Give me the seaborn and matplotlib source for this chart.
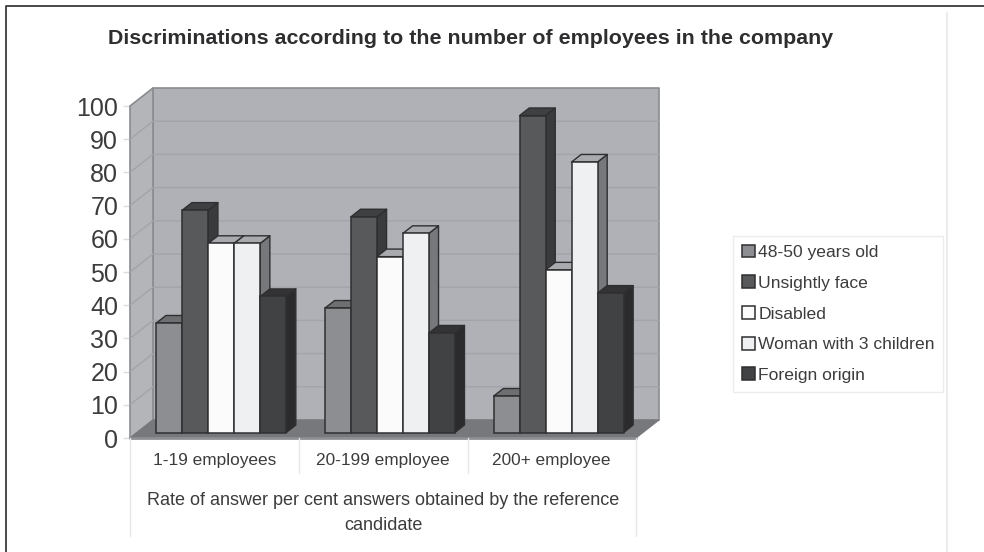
import matplotlib
matplotlib.use("Agg")
import matplotlib.pyplot as plt
import pandas as pd
import seaborn as sns
from matplotlib.lines import Line2D
from matplotlib.patches import Polygon
from matplotlib.transforms import Affine2D, IdentityTransform

categories = ["1-19 employees", "20-199 employee", "200+ employee"]
series_names = ["48-50 years old", "Unsightly face", "Disabled",
                "Woman with 3 children", "Foreign origin"]
older_workers = [33, 37.5, 11]
unsightly_face = [67, 65, 95.5]
disabled = [57, 53, 49]
woman_three_children = [57, 60, 81.5]
foreign_origin = [41, 30, 42]
y_ticks = list(range(0, 101, 10))

title_text = "Discriminations according to the number of employees in the company"
axis_text = "Rate of answer per cent answers obtained by the reference\ncandidate"

front_colors = ["#8d8e91", "#58595b", "#fbfbfb", "#eff0f1", "#414244"]
side_colors = ["#68696b", "#3a3b3c", "#77787b", "#77787b", "#2b2b2d"]
top_colors = ["#6e6f71", "#3f4041", "#a9aaad", "#a9aaad", "#333335"]
EDGE = "#2f2f31"
TEXT = "#3c3c3e"

W, H = 984, 552
DX, DY = 23.0, 18.0   # screen offset from the front plane to the back wall
BAR_D0, BAR_D1 = 0.3, 0.72  # depth range occupied by the bars

sns.set_theme(style="white")
plt.rcParams["font.family"] = ["Liberation Sans", "DejaVu Sans"]

fig = plt.figure(figsize=(W / 100, H / 100), dpi=100, facecolor="white")
ax = fig.add_axes([130 / W, (H - 438) / H, 506 / W, 332 / H], facecolor="none")

df = pd.DataFrame({
    "category": categories * 5,
    "series": [s for s in series_names for _ in categories],
    "value": older_workers + unsightly_face + disabled
             + woman_three_children + foreign_origin,
})

sns.barplot(data=df, x="category", y="value", hue="series",
            order=categories, hue_order=series_names,
            palette=front_colors, saturation=1, width=0.77, gap=0,
            edgecolor=EDGE, linewidth=1.1, ax=ax)
ax.set_xlim(-0.5, 2.5)
ax.set_ylim(0, 100)


def pt(x, y, d):
    """Screen position of a data point pushed d of the way to the back wall."""
    px, py = ax.transData.transform((x, y))
    return px + DX * d, py + DY * d


def face(points, color, edge, lw, z):
    ax.add_patch(Polygon(points, closed=True, facecolor=color, edgecolor=edge,
                         linewidth=lw, transform=IdentityTransform(),
                         clip_on=False, zorder=z, joinstyle="round"))


# Walls, floor and gridlines of the box
x0, x1 = ax.get_xlim()
WALL_EDGE = "#8a8b8f"
face([pt(x0, 0, 1), pt(x1, 0, 1), pt(x1, 100, 1), pt(x0, 100, 1)],
     "#b0b1b6", WALL_EDGE, 1.2, 1)
face([pt(x0, 0, 0), pt(x0, 0, 1), pt(x0, 100, 1), pt(x0, 100, 0)],
     "#b4b5b9", WALL_EDGE, 1.2, 1)
face([pt(x0, 0, 0), pt(x1, 0, 0), pt(x1, 0, 1), pt(x0, 0, 1)],
     "#77787b", "#77787b", 0.8, 1)
for tick in y_ticks[1:-1]:
    a, b, c = pt(x0, tick, 0), pt(x0, tick, 1), pt(x1, tick, 1)
    ax.add_line(Line2D([a[0], b[0], c[0]], [a[1], b[1], c[1]], color="#a3a4a9",
                       lw=1.0, transform=IdentityTransform(), clip_on=False,
                       zorder=1.5))
floor_edge = [pt(x0, 0, 0), pt(x1, 0, 0)]
ax.add_line(Line2D([p[0] for p in floor_edge], [p[1] for p in floor_edge],
                   color="#8e8f93", lw=2.0, transform=IdentityTransform(),
                   clip_on=False, zorder=1.6))

# Turn the flat seaborn bars into boxes, painting from left to right
bar_shift = Affine2D().translate(DX * BAR_D0, DY * BAR_D0)
for s_idx, container in enumerate(ax.containers):
    for c_idx, bar in enumerate(container):
        left, right = bar.get_x(), bar.get_x() + bar.get_width()
        top = bar.get_height()
        z = 3 + c_idx * 10 + s_idx * 1.0
        face([pt(right, 0, BAR_D0), pt(right, 0, BAR_D1),
              pt(right, top, BAR_D1), pt(right, top, BAR_D0)],
             side_colors[s_idx], EDGE, 1.0, z)
        face([pt(left, top, BAR_D0), pt(right, top, BAR_D0),
              pt(right, top, BAR_D1), pt(left, top, BAR_D1)],
             top_colors[s_idx], EDGE, 1.0, z)
        bar.set_transform(ax.transData + bar_shift)
        bar.set_clip_on(False)
        bar.set_zorder(z + 0.5)

# Axes text and ticks
ax.set_yticks(y_ticks)
ax.set_yticklabels([str(t) for t in y_ticks], fontsize=18, color=TEXT)
ax.tick_params(axis="y", length=5, width=1, color="#dcdcdc", pad=3.5, left=True)
ax.set_xticks(range(len(categories)))
ax.set_xticklabels(categories, fontsize=12.4, color=TEXT)
ax.tick_params(axis="x", length=0, pad=10.8)
ax.set_xlabel(axis_text, fontsize=13, color=TEXT, labelpad=17, linespacing=1.62)
ax.set_ylabel("")
sns.despine(ax=ax, left=True, bottom=True, top=True, right=True)

fig.text(471 / W, 1 - 39 / H, title_text, fontsize=15.4, fontweight="bold",
         color="#2e2e30", ha="center", va="center")

# Legend
handles, labels = ax.get_legend_handles_labels()
ax.legend(handles, labels, loc="upper left",
          bbox_to_anchor=(733 / W, 1 - 236 / H), bbox_transform=fig.transFigure,
          frameon=True, fancybox=False, edgecolor="#ececec", framealpha=1,
          prop={"size": 12.6}, labelcolor=TEXT, handlelength=0.74,
          handleheight=0.74, handletextpad=0.2, labelspacing=0.87,
          borderpad=0.5, borderaxespad=0, title=None)


def frame_line(xs, ys, color, lw):
    fig.add_artist(Line2D([x / W for x in xs], [1 - y / H for y in ys],
                          color=color, lw=lw, transform=fig.transFigure))


# Outer frame and the light rules of the label table
frame_line([6, 6, W], [H, 5.5, 5.5], "#3a3a3a", 1.3)
frame_line([947, 947], [13, H], "#ececec", 1.5)
frame_line([130, 130], [438, 536], "#e6e6e6", 1.0)
frame_line([636, 636], [438, 536], "#e6e6e6", 1.0)
frame_line([299, 299], [438, 473], "#e6e6e6", 1.0)
frame_line([467.5, 467.5], [438, 473], "#e6e6e6", 1.0)

fig.savefig("out.png", dpi=100, facecolor="white")
